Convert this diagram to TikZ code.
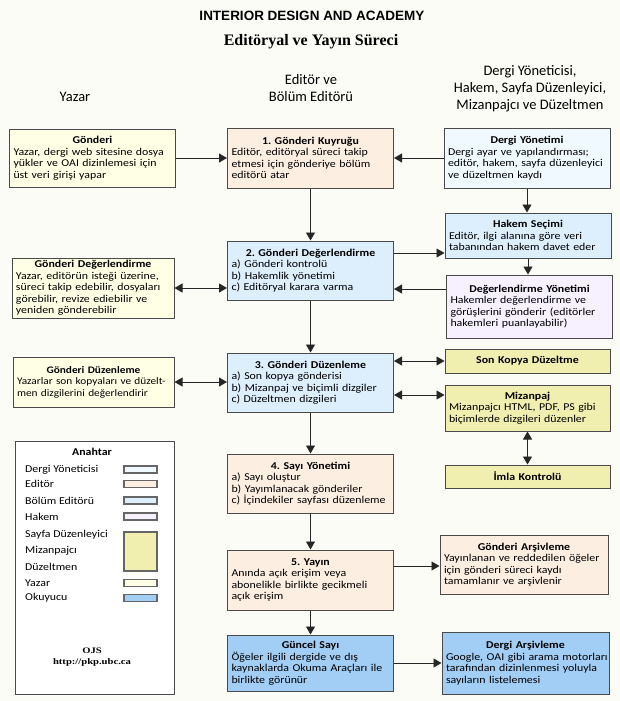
\documentclass[tikz,border=0pt]{standalone}
\usepackage{fontspec}
\setmainfont{Carlito}[FakeStretch=1.13]
\newfontfamily\headfont{Carlito}
\newfontfamily\titlefont{Liberation Sans}
\newfontfamily\subtitlefont{Liberation Serif}
\newfontfamily\ojsfont{Liberation Serif}[FakeStretch=1.25]
\usetikzlibrary{positioning,
	arrows.meta}
\frenchspacing

\definecolor{bgcol}{HTML}{FCFCF6}
\definecolor{linecol}{HTML}{4A4A4A}
\definecolor{yazarcol}{HTML}{FFFFE6}
\definecolor{editorcol}{HTML}{FDEEE2}
\definecolor{bolumcol}{HTML}{DDEEFD}
\definecolor{dergicol}{HTML}{EFF9FF}
\definecolor{hakemcol}{HTML}{F6F0FF}
\definecolor{dizgicol}{HTML}{F1EFB0}
\definecolor{okurcol}{HTML}{A2CDF4}

\newcommand{\btitle}[1]{\noindent\hfill\textbf{#1}\hfill\null\\}

\begin{document}
\begin{tikzpicture}[x=1pt, y=-1pt,
	box/.style={draw=linecol, line width=1pt, text width=158pt, inner xsep=4pt, inner ysep=2pt, align=left, font=\fontsize{10.5}{11.5}\selectfont},
	flow/.style={draw=black!85, line width=0.9pt, -{Triangle[length=8pt, width=9pt]}},
	both/.style={flow, {Triangle[length=8pt, width=9pt]}-{Triangle[length=8pt, width=9pt]}},
	head/.style={align=center, font=\headfont\fontsize{14.5}{17}\selectfont},
	keyitem/.style={anchor=west, inner sep=0pt, font=\fontsize{10.5}{12}\selectfont},
	swatch/.style={draw=gray!80!black, line width=1.2pt}]
	\fill[bgcol] (0, 0) rectangle (620, 701);
	\useasboundingbox (0, 0) rectangle (620, 701);

	\node[font=\titlefont\bfseries\fontsize{13.5}{16}\selectfont] (title) at (312, 16) {INTERIOR DESIGN AND ACADEMY};
	\node[font=\subtitlefont\bfseries\fontsize{16}{18}\selectfont] (subtitle) at (311, 42) {Editöryal ve Yayın Süreci};

	\node[head] (colyazar) at (75, 97) {Yazar};
	\node[head] (coleditor) at (311, 88) {Editör ve\\Bölüm Editörü};
	\node[head] (coldergi) at (530, 89) {Dergi Yöneticisi,\\Hakem, Sayfa Düzenleyici,\\Mizanpajcı ve Düzeltmen};

	\node[box, fill=yazarcol, minimum height=58pt] (gonderi) at (92.5, 158) {\btitle{Gönderi}Yazar, dergi web sitesine dosya\\yükler ve OAI dizinlemesi için\\üst veri girişi yapar};
	\node[box, fill=editorcol, minimum height=60pt] (kuyruk) at (310.5, 158) {\btitle{1. Gönderi Kuyruğu}Editör, editöryal süreci takip\\etmesi için gönderiye bölüm\\editörü atar};
	\node[box, fill=dergicol, minimum height=60pt] (dergiyon) at (527, 158) {\btitle{Dergi Yönetimi}Dergi ayar ve yapılandırması;\\editör, hakem, sayfa düzenleyici\\ve düzeltmen kaydı};

	\node[box, fill=bolumcol, minimum height=45pt] (hakemsec) at (528, 235.5) {\btitle{Hakem Seçimi}Editör, ilgi alanına göre veri\\tabanından hakem davet eder};
	\node[box, fill=hakemcol, minimum height=63pt] (degyon) at (529.5, 306.5) {\btitle{Değerlendirme Yönetimi}Hakemler değerlendirme ve\\görüşlerini gönderir (editörler\\hakemleri puanlayabilir)};
	\node[box, fill=bolumcol, minimum height=59pt] (degerlendirme) at (310.5, 270.5) {\btitle{2. Gönderi Değerlendirme}a) Gönderi kontrolü\\b) Hakemlik yönetimi\\c) Editöryal karara varma};
	\node[box, fill=yazarcol, text width=154pt, minimum height=60pt] (yazardeg) at (93, 288) {\btitle{Gönderi Değerlendirme}Yazar, editörün isteği üzerine,\\süreci takip edebilir, dosyaları\\görebilir, revize ediebilir ve\\yeniden gönderebilir};

	\node[box, fill=yazarcol, text width=153pt, minimum height=50pt, font=\fontsize{10}{11.5}\selectfont] (yazarduz) at (93.5, 382) {\btitle{Gönderi Düzenleme}\mbox{Yazarlar son kopyaları ve düzelt-}\\men dizgilerini değerlendirir};
	\node[box, fill=bolumcol, minimum height=59pt] (duzenleme) at (310.5, 382.5) {\btitle{3. Gönderi Düzenleme}a) Son kopya gönderisi\\b) Mizanpaj ve biçimli dizgiler\\c) Düzeltmen dizgileri};
	\node[box, fill=dizgicol, text width=157pt, minimum height=24pt, align=center] (sonkopya) at (527.5, 361) {\textbf{Son Kopya Düzeltme}};
	\node[box, fill=dizgicol, text width=157pt, minimum height=46pt] (mizanpaj) at (527.5, 408) {\btitle{Mizanpaj}Mizanpajcı HTML, PDF, PS gibi\\biçimlerde dizgileri düzenler};
	\node[box, fill=dizgicol, text width=157pt, minimum height=23pt, align=center] (imla) at (527.5, 476.5) {\textbf{İmla Kontrolü}};

	\node[box, fill=editorcol, minimum height=59pt] (sayi) at (310.5, 483.5) {\btitle{4. Sayı Yönetimi}a) Sayı oluştur\\b) Yayımlanacak gönderiler\\c) İçindekiler sayfası düzenleme};
	\node[box, fill=editorcol, minimum height=60pt] (yayin) at (310.5, 580) {\btitle{5. Yayın}Anında açık erişim veya\\abonelikle birlikte gecikmeli\\açık erişim};
	\node[box, fill=okurcol, minimum height=56pt] (guncel) at (310.5, 663) {\btitle{Güncel Sayı}Öğeler ilgili dergide ve dış\\kaynaklarda Okuma Araçları ile\\birlikte görünür};
	\node[box, fill=editorcol, text width=160pt, minimum height=59pt] (garsiv) at (524, 564.5) {\btitle{Gönderi Arşivleme}Yayınlanan ve reddedilen öğeler\\için gönderi süreci kaydı\\tamamlanır ve arşivlenir};
	\node[box, fill=okurcol, text width=159pt, minimum height=62pt] (darsiv) at (525.5, 663) {\btitle{Dergi Arşivleme}\mbox{Google, OAI gibi arama motorları}\\tarafından dizinlenmesi yoluyla\\sayıların listelemesi};

	\node[draw=linecol, line width=1pt, fill=white, minimum width=159pt, minimum height=253pt] (anahtar) at (94.5, 567.5) {};
	\node[font=\bfseries\fontsize{10.5}{12}\selectfont] (anahtarbaslik) at (92, 452) {Anahtar};
	\foreach \name/\ypos/\lbl/\col in {dy/469.5/Dergi Yöneticisi/dergicol, ed/484/Editör/editorcol, be/500.5/Bölüm Editörü/bolumcol, hk/516.5/Hakem/hakemcol, yz/583/Yazar/yazarcol, ok/598/Okuyucu/okurcol}
	{
		\node[keyitem] (key\name) at (25, \ypos) {\lbl};
		\draw[swatch, fill=\col] (124, \ypos-3.5) rectangle (157, \ypos+3.5);
	}
	\node[keyitem] (keysd) at (25, 535) {Sayfa Düzenleyici};
	\node[keyitem] (keymz) at (25, 551) {Mizanpajcı};
	\node[keyitem] (keydz) at (25, 567) {Düzeltmen};
	\draw[swatch, fill=dizgicol] (124, 532) rectangle (157, 571);
	\node[align=center, font=\ojsfont\bfseries\fontsize{8.5}{11}\selectfont] (ojs) at (92, 657) {OJS\\http://pkp.ubc.ca};

	\draw[flow] (gonderi) -- (kuyruk);
	\draw[flow] (dergiyon) -- (kuyruk);
	\draw[flow] (kuyruk) -- (degerlendirme);
	\draw[flow] (dergiyon.south) -- (dergiyon.south |- hakemsec.north);
	\draw[flow] ([yshift=17.5pt]degerlendirme.east) -- ([yshift=17.5pt]degerlendirme.east -| hakemsec.west);
	\draw[flow] (hakemsec.south) -- (hakemsec.south |- degyon.north);
	\draw[flow] ([yshift=-18.5pt]degerlendirme.east -| degyon.west) -- ([yshift=-18.5pt]degerlendirme.east);
	\draw[both] (yazardeg.east) -- (yazardeg.east -| degerlendirme.west);
	\draw[flow] (degerlendirme) -- (duzenleme);
	\draw[both] (yazarduz.east) -- (yazarduz.east -| duzenleme.west);
	\draw[both] (duzenleme.east |- sonkopya.west) -- (sonkopya.west);
	\draw[both] ([yshift=13pt]mizanpaj.west -| duzenleme.east) -- ([yshift=13pt]mizanpaj.west);
	\draw[both] (mizanpaj) -- (imla);
	\draw[flow] (duzenleme) -- (sayi);
	\draw[flow] (sayi) -- (yayin);
	\draw[flow] ([yshift=14pt]yayin.east) -- ([yshift=14pt]yayin.east -| garsiv.west);
	\draw[flow] (yayin) -- (guncel);
	\draw[flow] (guncel) -- (darsiv);
\end{tikzpicture}
\end{document}
